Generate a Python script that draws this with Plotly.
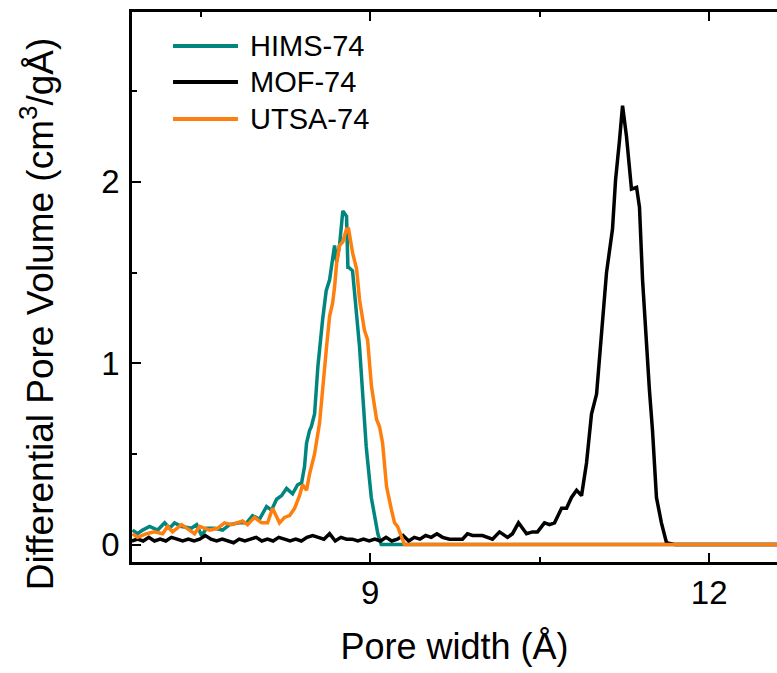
import plotly.graph_objects as go

# ---------------- data ----------------
hims_x = [6.896, 6.94, 6.985, 7.047, 7.118, 7.18, 7.224, 7.268, 7.33, 7.418, 7.463, 7.507,
          7.551, 7.622, 7.693, 7.755, 7.843, 7.905, 7.958, 8.02, 8.082, 8.126, 8.171, 8.215,
          8.259, 8.312, 8.357, 8.392, 8.418, 8.436, 8.463, 8.478, 8.507, 8.536, 8.578, 8.61,
          8.64, 8.666, 8.684, 8.702, 8.728, 8.757, 8.79, 8.802, 8.808, 8.843, 8.905, 8.964,
          9.009, 9.067, 9.097, 9.2, 12.6]
hims_y = [0.08, 0.06, 0.08, 0.10, 0.08, 0.12, 0.09, 0.12, 0.10, 0.09, 0.11, 0.05,
          0.09, 0.09, 0.08, 0.11, 0.12, 0.12, 0.16, 0.14, 0.21, 0.19, 0.25, 0.27,
          0.31, 0.28, 0.33, 0.34, 0.43, 0.56, 0.63, 0.65, 0.72, 0.98, 1.24, 1.40,
          1.46, 1.59, 1.65, 1.56, 1.65, 1.84, 1.81, 1.53, 1.53, 1.51, 1.09, 0.54,
          0.26, 0.06, 0.0, 0.0, 0.0]

mof_x = [6.89, 6.94, 6.99, 7.04, 7.09, 7.14, 7.19, 7.24, 7.29, 7.34, 7.39, 7.44, 7.49, 7.54,
         7.59, 7.64, 7.69, 7.74, 7.79, 7.84, 7.89, 7.94, 7.99, 8.04, 8.09, 8.14, 8.19, 8.24,
         8.29, 8.34, 8.39, 8.44, 8.49, 8.54, 8.59, 8.64, 8.69, 8.74, 8.79, 8.84, 8.89, 8.94,
         8.99, 9.04, 9.09, 9.14, 9.19, 9.24, 9.29, 9.34, 9.39, 9.44, 9.49, 9.54, 9.59, 9.64,
         9.701, 9.816, 9.86, 9.905, 9.993, 10.082, 10.144, 10.215, 10.259, 10.312, 10.383,
         10.436, 10.48, 10.542, 10.587, 10.631, 10.693, 10.737, 10.781, 10.826, 10.87,
         10.914, 10.958, 11.003, 11.047, 11.091, 11.144, 11.171, 11.206, 11.233, 11.268,
         11.312, 11.357, 11.383, 11.41, 11.445, 11.471, 11.498, 11.533, 11.577, 11.622,
         11.7, 12.6]
mof_y = [0.02, 0.03, 0.02, 0.04, 0.02, 0.03, 0.02, 0.04, 0.03, 0.02, 0.03, 0.02, 0.03, 0.05,
         0.03, 0.02, 0.03, 0.02, 0.01, 0.03, 0.02, 0.03, 0.04, 0.02, 0.03, 0.02, 0.04, 0.03,
         0.02, 0.03, 0.02, 0.04, 0.05, 0.04, 0.03, 0.06, 0.02, 0.04, 0.03, 0.03, 0.02, 0.03,
         0.02, 0.03, 0.02, 0.04, 0.02, 0.03, 0.05, 0.02, 0.04, 0.03, 0.05, 0.04, 0.06, 0.04,
         0.03, 0.03, 0.06, 0.05, 0.05, 0.03, 0.07, 0.04, 0.06, 0.12, 0.06,
         0.07, 0.07, 0.12, 0.11, 0.12, 0.20, 0.20, 0.26, 0.30, 0.27,
         0.45, 0.72, 0.83, 1.17, 1.50, 1.74, 2.01, 2.23, 2.42, 2.25,
         1.96, 1.97, 1.86, 1.46, 1.09, 0.85, 0.63, 0.26, 0.12, 0.01,
         0.0, 0.0]

utsa_x = [6.896, 6.94, 7.02, 7.09, 7.162, 7.206, 7.25, 7.33, 7.40, 7.445, 7.489, 7.578,
          7.648, 7.71, 7.772, 7.87, 7.914, 7.976, 8.038, 8.091, 8.135, 8.197, 8.241, 8.286,
          8.33, 8.374, 8.401, 8.436, 8.463, 8.507, 8.551, 8.578, 8.613, 8.64, 8.666, 8.684,
          8.702, 8.728, 8.757, 8.79, 8.808, 8.843, 8.879, 8.905, 8.949, 8.976, 9.011, 9.056,
          9.082, 9.109, 9.144, 9.188, 9.215, 9.241, 9.276, 9.303, 12.6]
utsa_y = [0.06, 0.04, 0.06, 0.07, 0.06, 0.10, 0.07, 0.11, 0.08, 0.06, 0.10, 0.08,
          0.09, 0.12, 0.11, 0.13, 0.11, 0.15, 0.12, 0.12, 0.20, 0.12, 0.15, 0.16,
          0.20, 0.27, 0.33, 0.30, 0.39, 0.50, 0.67, 0.87, 1.09, 1.26, 1.33, 1.42,
          1.55, 1.65, 1.67, 1.74, 1.74, 1.61, 1.52, 1.35, 1.18, 1.13, 0.87, 0.69,
          0.65, 0.56, 0.32, 0.19, 0.12, 0.10, 0.04, 0.0, 0.0]

names = ["HIMS-74", "MOF-74", "UTSA-74"]
colors = ["#00857f", "#000000", "#ff7f0e"]

x_tickvals = [9, 12]
y_tickvals = [0, 1, 2]

# ---------------- figure ----------------
FONT = "Liberation Sans, Arial, sans-serif"
fig = go.Figure()
for xs, ys, nm, c in zip([hims_x, mof_x, utsa_x], [hims_y, mof_y, utsa_y], names, colors):
    fig.add_trace(go.Scatter(x=xs, y=ys, mode="lines", name=nm,
                             line=dict(color=c, width=3.5), showlegend=False))

fig.update_layout(
    width=777, height=673,
    margin=dict(l=132, r=0, t=12, b=111),
    paper_bgcolor="white", plot_bgcolor="white",
    font=dict(family=FONT, color="black"),
)
fig.update_xaxes(
    range=[6.891, 12.6], tickvals=x_tickvals, ticktext=[str(v) for v in x_tickvals],
    ticks="inside", ticklen=9, tickwidth=2, tickcolor="black",
    minor=dict(dtick=1.5, tick0=0, ticks="inside", ticklen=5, tickwidth=2, tickcolor="black"),
    showline=True, linecolor="black", linewidth=2.5, mirror="ticks",
    showgrid=False, zeroline=False,
    tickfont=dict(size=33, family=FONT), ticklabelstandoff=0,
    title=dict(text="Pore width (Å)", font=dict(size=36, family=FONT), standoff=24),
)
fig.update_yaxes(
    range=[-0.096, 2.937], tickvals=y_tickvals, ticktext=[str(v) for v in y_tickvals],
    ticks="inside", ticklen=9, tickwidth=2, tickcolor="black",
    minor=dict(dtick=0.5, tick0=0, ticks="inside", ticklen=5, tickwidth=2, tickcolor="black"),
    showline=True, linecolor="black", linewidth=2.5, mirror=False,
    showgrid=False, zeroline=False,
    tickfont=dict(size=33, family=FONT), ticklabelstandoff=3,
)

# y-axis title as a rotated annotation (to match its placement)
fig.add_annotation(text="Differential Pore Volume (cm<sup>3</sup>/gÅ)", textangle=-90,
                   xref="paper", yref="paper", x=-0.146, y=0.452,
                   xanchor="center", yanchor="middle", showarrow=False,
                   font=dict(size=37, family=FONT, color="black"))

# legend (line samples + labels)
leg_y = [0.938, 0.8727, 0.8055]
for nm, c, ly in zip(names, colors, leg_y):
    fig.add_shape(type="line", xref="paper", yref="paper", x0=0.0636, x1=0.1643,
                  y0=ly, y1=ly, line=dict(color=c, width=4))
    fig.add_annotation(text=nm, xref="paper", yref="paper", x=0.1798, y=ly,
                       xanchor="left", yanchor="middle", showarrow=False,
                       font=dict(size=29, family=FONT, color="black"))

fig.write_html("out.html")
